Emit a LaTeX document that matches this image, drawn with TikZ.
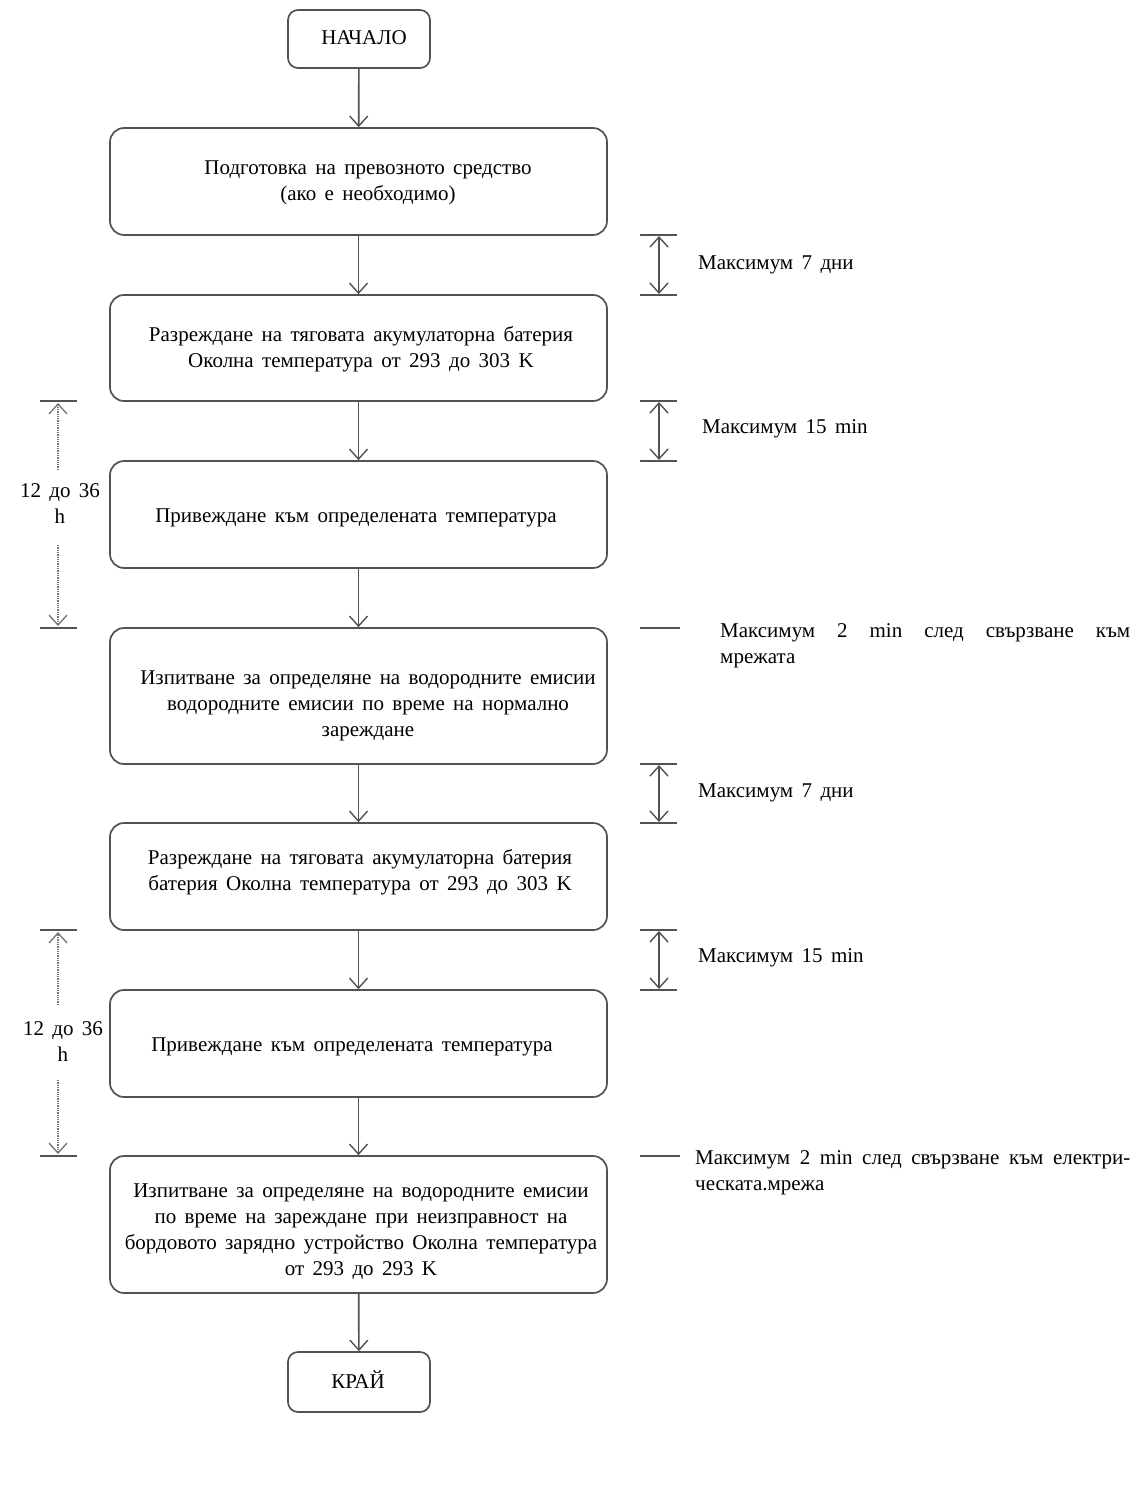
\documentclass[tikz,border=0pt]{standalone}
\usepackage{fontspec}
\setmainfont{Liberation Serif}
\usetikzlibrary{arrows.meta}
\newcommand\mywordsp{\spaceskip=0.4em plus 0.2em minus 0.1em\relax}
\tikzset{
  ln/.style={draw=black!68, line width=1.7pt},
  txt/.style={font=\fontsize{21}{26}\selectfont\mywordsp},
  box/.style={ln, rounded corners=14pt, minimum width=497pt, inner sep=0pt},
  boxtext/.style={txt, align=center, inner sep=0pt},
  term/.style={ln, rounded corners=10pt, minimum width=142pt, minimum height=58pt, inner sep=0pt},
  flow/.style={ln, -{Straight Barb[length=10pt,width=18pt,line width=1.4pt]}},
  dimarrow/.style={ln, {Straight Barb[length=10pt,width=18pt,line width=1.4pt]}-{Straight Barb[length=10pt,width=18pt,line width=1.4pt]}},
  lftarrow/.style={draw=black!55, line width=1.3pt, densely dotted, -{Straight Barb[length=10pt,width=18pt,line width=1.3pt,sep=0pt]}},
  barline/.style={ln},
  note/.style={txt, anchor=west, inner sep=0pt, align=left},
}
\begin{document}
\begin{tikzpicture}[x=1pt,y=-1pt]
\useasboundingbox (0,0) rectangle (1138,1503);
\fill[white] (0,0) rectangle (1138,1503);

% main flow boxes
\node[term] (start) at (359,39) {};
\node[box, minimum height=107pt] (b1) at (358.5,181.5) {};
\node[box, minimum height=106pt] (b2) at (358.5,348) {};
\node[box, minimum height=107pt] (b3) at (358.5,514.5) {};
\node[box, minimum height=136pt] (b4) at (358.5,696) {};
\node[box, minimum height=107pt] (b5) at (358.5,876.5) {};
\node[box, minimum height=107pt] (b6) at (358.5,1043.5) {};
\node[box, minimum height=137pt] (b7) at (358.5,1224.5) {};
\node[term, minimum height=60pt] (end) at (359,1382) {};

% texts
\node[boxtext] (t0) at (364,38) {НАЧАЛО};
\node[boxtext] (t1) at (368,183) {Подготовка на превозното средство\\(ако е необходимо)};
\node[boxtext] (t2) at (361,349) {Разреждане на тяговата акумулаторна батерия\\Околна температура от 293 до 303 K};
\node[boxtext] (t3) at (356,518) {Привеждане към определената температура};
\node[boxtext] (t4) at (368,706) {Изпитване за определяне на водородните емисии\\водородните емисии по време на нормално\\зареждане};
\node[boxtext] (t5) at (360,872) {Разреждане на тяговата акумулаторна батерия\\батерия Околна температура от 293 до 303 K};
\node[boxtext] (t6) at (352,1047) {Привеждане към определената температура};
\node[boxtext] (t7) at (361,1232) {Изпитване за определяне на водородните емисии\\по време на зареждане при неизправност на\\бордовото зарядно устройство Околна температура\\от 293 до 293 K};
\node[boxtext] (t8) at (358,1380) {КРАЙ};

\draw[flow] (start) -- (b1);
\draw[flow] (b1) -- (b2);
\draw[flow] (b2) -- (b3);
\draw[flow] (b3) -- (b4);
\draw[flow] (b4) -- (b5);
\draw[flow] (b5) -- (b6);
\draw[flow] (b6) -- (b7);
\draw[flow] (b7) -- (end);

% right annotations
\foreach \y in {235,295,401,461,764,823,930,990}{
  \draw[barline] (640,\y) -- (677,\y);
}
\draw[barline] (640,628) -- (680,628);
\draw[barline] (640,1156) -- (680,1156);

\coordinate (ra1) at (659,236); \coordinate (rb1) at (659,294);
\coordinate (ra2) at (659,402); \coordinate (rb2) at (659,460);
\coordinate (ra3) at (659,765); \coordinate (rb3) at (659,822);
\coordinate (ra4) at (659,931); \coordinate (rb4) at (659,989);
\draw[dimarrow] (ra1) -- (rb1);
\draw[dimarrow] (ra2) -- (rb2);
\draw[dimarrow] (ra3) -- (rb3);
\draw[dimarrow] (ra4) -- (rb4);

\node[note] (n1) at (698,265) {Максимум 7 дни};
\node[note] (n2) at (702,429) {Максимум 15 min};
\node[note, anchor=north west] (n3) at (720,623) {\hbox to 410pt{Максимум 2 min след свързване към}\\мрежата};
\node[note] (n4) at (698,793) {Максимум 7 дни};
\node[note] (n5) at (698,958) {Максимум 15 min};
\node[note, anchor=north west] (n6) at (695,1150) {\hbox to 435pt{Максимум 2 min след свързване към електри-}\\ческата.мрежа};

% left annotations
\foreach \y in {401,628,930,1156}{
  \draw[barline] (40,\y) -- (77,\y);
}
\node[boxtext] (l1) at (60,504) {12 до 36\\h};
\node[boxtext] (l2) at (63,1042) {12 до 36\\h};
\coordinate (la1) at (58,403); \coordinate (lb1) at (58,470);
\coordinate (lc1) at (58,545); \coordinate (ld1) at (58,626);
\coordinate (la2) at (58,932); \coordinate (lb2) at (58,1005);
\coordinate (lc2) at (58,1080); \coordinate (ld2) at (58,1154);
\draw[lftarrow] (lb1) -- (la1);
\draw[lftarrow] (lc1) -- (ld1);
\draw[lftarrow] (lb2) -- (la2);
\draw[lftarrow] (lc2) -- (ld2);
\end{tikzpicture}
\end{document}
